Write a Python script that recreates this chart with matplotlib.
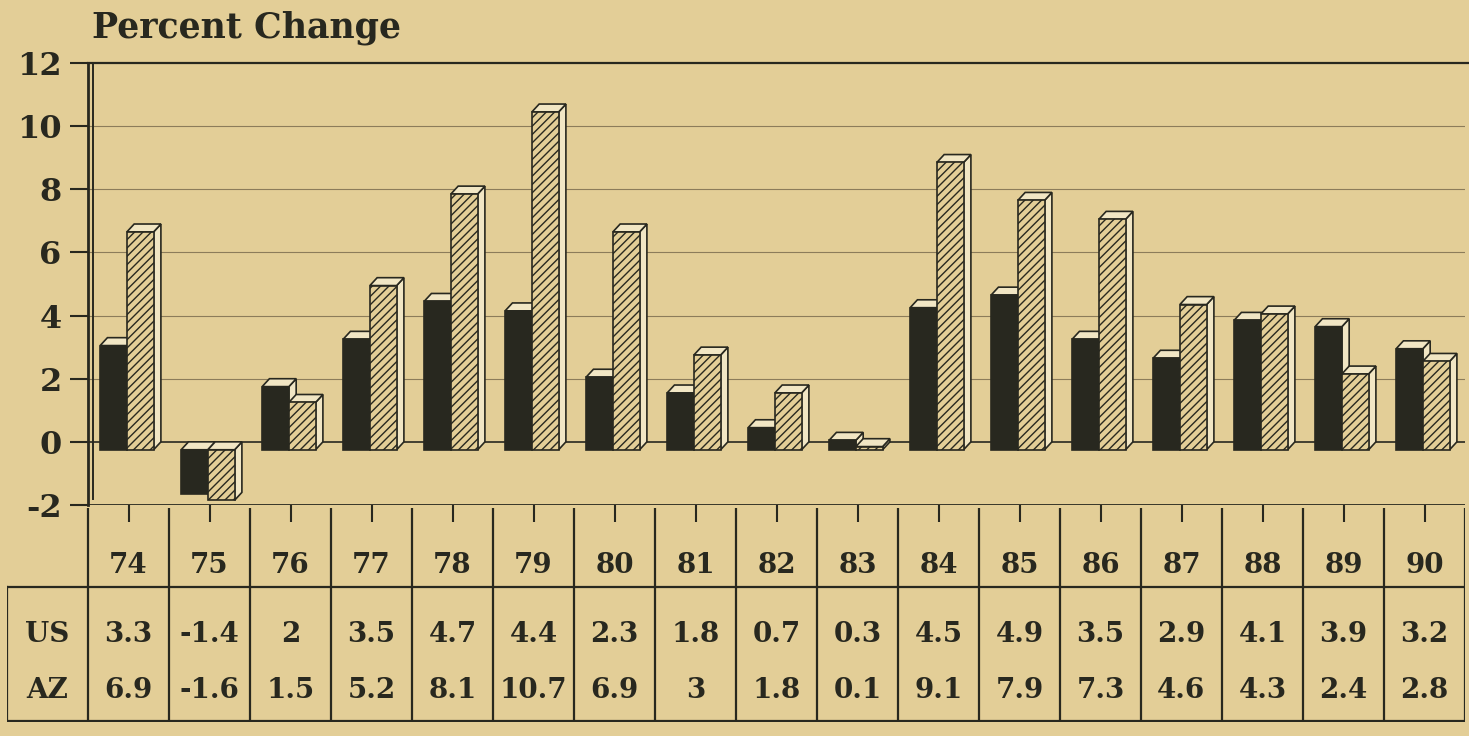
import numpy as np
import matplotlib
matplotlib.use("Agg")
from matplotlib import pyplot as plt
from matplotlib.patches import Polygon, Rectangle

# percent change by year, US vs Arizona
years = ["74", "75", "76", "77", "78", "79", "80", "81", "82",
         "83", "84", "85", "86", "87", "88", "89", "90"]
us = [3.3, -1.4, 2, 3.5, 4.7, 4.4, 2.3, 1.8, 0.7,
      0.3, 4.5, 4.9, 3.5, 2.9, 4.1, 3.9, 3.2]
az = [6.9, -1.6, 1.5, 5.2, 8.1, 10.7, 6.9, 3, 1.8,
      0.1, 9.1, 7.9, 7.3, 4.6, 4.3, 2.4, 2.8]
us_txt = ["3.3", "-1.4", "2", "3.5", "4.7", "4.4", "2.3", "1.8", "0.7",
          "0.3", "4.5", "4.9", "3.5", "2.9", "4.1", "3.9", "3.2"]
az_txt = ["6.9", "-1.6", "1.5", "5.2", "8.1", "10.7", "6.9", "3", "1.8",
          "0.1", "9.1", "7.9", "7.3", "4.6", "4.3", "2.4", "2.8"]

bg = "#E3CE97"
ink = "#28281f"
face_light = "#F1E6C4"
font = "DejaVu Serif"

plt.rcParams["hatch.color"] = ink
plt.rcParams["hatch.linewidth"] = 1.0

W, H = 1469, 736
fig = plt.figure(figsize=(W / 100, H / 100), dpi=100, facecolor=bg)

# bar area: x from px 88 to 1465, y from px 63 (12) to 505 (-2)
ax = fig.add_axes([88 / W, (H - 505) / H, (1465 - 88) / W, (505 - 63) / H])
ax.set_facecolor(bg)
ax.set_xlim(-0.5, 16.5)
ax.set_ylim(-2, 12)
for s in ax.spines.values():
    s.set_visible(False)

# grid + frame
for g in [2, 4, 6, 8, 10]:
    ax.axhline(g, color="#8c7c5a", lw=0.8, zorder=1)
ax.axhline(0, color=ink, lw=1.2, zorder=1)
ax.plot([-0.5, 16.55], [12, 12], color=ink, lw=1.6, clip_on=False, zorder=1)
ax.axhline(-2, color=ink, lw=2.0, zorder=1)
ax.plot([-0.5, -0.5], [-2, 12], color=ink, lw=2.0, clip_on=False, zorder=1)
ax.plot([-0.44, -0.44], [-1.8, 12], color=ink, lw=1.4, clip_on=False, zorder=1)

# fake 3D bars: back edge sits on the wall value, front face drops by dy
dx, dy = 0.09, 0.25
bw = 0.33
x = np.arange(len(years))


def bar3d(x0, v, hatched, z):
    x1 = x0 + bw
    top, bot = max(v, 0) - dy, min(v, 0) - dy
    fc = bg if hatched else ink
    front = Rectangle((x0, bot), bw, top - bot, facecolor=fc, edgecolor=ink,
                      lw=1.2, hatch="////" if hatched else None, zorder=z)
    side = Polygon([(x1, bot), (x1 + dx, bot + dy), (x1 + dx, top + dy), (x1, top)],
                   closed=True, facecolor=face_light, edgecolor=ink, lw=1.2, zorder=z)
    cap = Polygon([(x0, top), (x0 + dx, top + dy), (x1 + dx, top + dy), (x1, top)],
                  closed=True, facecolor=face_light, edgecolor=ink, lw=1.2, zorder=z)
    ax.add_patch(side)
    ax.add_patch(cap)
    ax.add_patch(front)


for i in x:
    bar3d(i - 0.35, us[i], False, 3)
    bar3d(i - 0.02, az[i], True, 4)

ax.set_yticks(np.arange(-2, 13, 2))
ax.set_yticklabels([str(t) for t in range(-2, 13, 2)], fontsize=23,
                   fontweight="bold", family=font, color=ink)
ax.set_xticks(x)
ax.set_xticklabels([])
ax.tick_params(axis="y", direction="out", length=13, width=1.5, color=ink, pad=6)
ax.tick_params(axis="x", direction="out", length=12, width=1.5, color=ink)

fig.text(92 / W, 1 - 28 / H, "Percent Change", fontsize=25, fontweight="bold",
         family=font, color=ink, va="center", ha="left")

# data table below
tx = fig.add_axes([7 / W, (H - 722) / H, (1465 - 7) / W, (722 - 508) / H])
tx.set_xlim(-1.5, 16.5)
tx.set_ylim(0, 1)
tx.axis("off")
div = 0.632
lc = dict(color=ink, lw=1.6)
for b in np.arange(-0.5, 17, 1):
    tx.plot([b, b], [0, 1], **lc)
tx.plot([-1.5, -1.5], [0, div], **lc)
tx.plot([-1.5, 16.5], [div, div], **lc)
tx.plot([-1.5, 16.5], [0.005, 0.005], **lc)

tkw = dict(fontsize=20, fontweight="bold", family=font, color=ink,
           ha="center", va="center")
for i in x:
    tx.text(i, 0.73, years[i], **tkw)
    tx.text(i, 0.41, us_txt[i], **tkw)
    tx.text(i, 0.145, az_txt[i], **tkw)
tx.text(-1, 0.41, "US", **tkw)
tx.text(-1, 0.145, "AZ", **tkw)

fig.savefig("out.png", dpi=100, facecolor=bg)
